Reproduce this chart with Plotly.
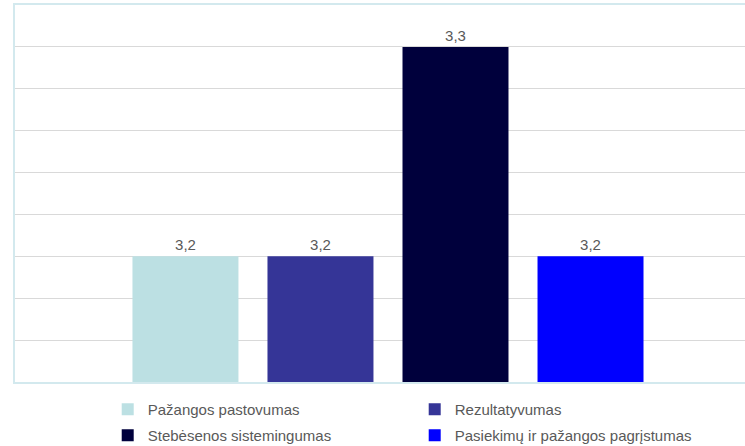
import plotly.graph_objects as go

categories = [""]
series_names = ["Pažangos pastovumas", "Rezultatyvumas", "Stebėsenos sistemingumas", "Pasiekimų ir pažangos pagrįstumas"]
series_values = [3.2, 3.2, 3.3, 3.2]
series_colors = ["#BCE0E3", "#353597", "#00003C", "#0000FF"]
legend_ids = ["legend", "legend", "legend2", "legend2"]

fig = go.Figure()
for name, val, col, lg in zip(series_names, series_values, series_colors, legend_ids):
    fig.add_trace(go.Bar(
        x=categories, y=[val], name=name,
        marker=dict(color=col, line=dict(width=0)),
        text=[f"{val:.1f}".replace(".", ",")], textposition="outside",
        textfont=dict(family="Liberation Sans, Arial", size=15, color="#595959"),
        cliponaxis=False, legend=lg,
    ))

fig.update_layout(
    width=745, height=446,
    margin=dict(l=15, r=0, t=5, b=64, autoexpand=False),
    paper_bgcolor="white", plot_bgcolor="white",
    barmode="group", bargap=0.276, bargroupgap=0.215,
    font=dict(family="Liberation Sans, Arial", size=15, color="#595959"),
    xaxis=dict(range=[-0.5, 0.4786], showticklabels=False, showgrid=False,
               showline=True, linecolor="#D3E9EE", linewidth=2, mirror=True, zeroline=False),
    yaxis=dict(range=[3.14, 3.32], dtick=0.02, tick0=3.14, showticklabels=False,
               showgrid=True, gridcolor="#D9D9D9", gridwidth=1,
               showline=True, linecolor="#D3E9EE", linewidth=2, mirror=True, zeroline=False),
    legend=dict(orientation="h", x=0.127, y=-0.029, xanchor="left", yanchor="top",
                entrywidth=262, entrywidthmode="pixels", itemwidth=30,
                font=dict(size=15, color="#595959"), bgcolor="rgba(0,0,0,0)"),
    legend2=dict(orientation="h", x=0.127, y=-0.098, xanchor="left", yanchor="top",
                 entrywidth=262, entrywidthmode="pixels", itemwidth=30,
                 font=dict(size=15, color="#595959"), bgcolor="rgba(0,0,0,0)"),
    showlegend=True,
)

fig.write_html("out.html", config={"displayModeBar": False},
               post_script="document.body.style.margin='0';document.body.style.overflow='hidden';")
